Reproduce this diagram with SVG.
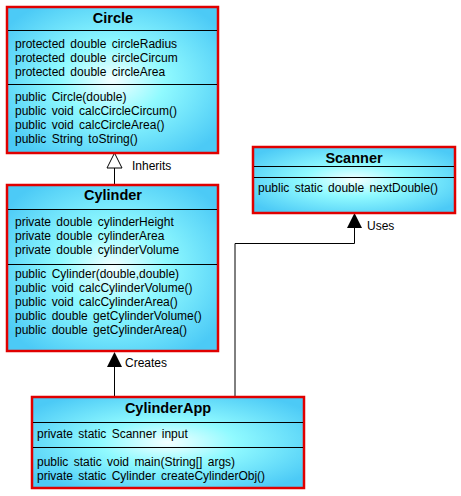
<svg xmlns="http://www.w3.org/2000/svg" width="461" height="496" viewBox="0 0 461 496">
<defs>
<radialGradient id="g" cx="0.5" cy="0.5" r="0.62">
<stop offset="0" stop-color="#f4ffff"/>
<stop offset="0.4" stop-color="#90faff"/>
<stop offset="1" stop-color="#4ccaf6"/>
</radialGradient>
</defs>
<style>
.box{fill:url(#g);stroke:#e00000;stroke-width:2.5}
.div{stroke:#000;stroke-width:1}
text{font-family:"Liberation Sans",Arial,sans-serif;font-size:12px;word-spacing:2px;fill:#000}
.t{font-weight:bold;font-size:14.5px;text-anchor:middle}
.ln{stroke:#000;stroke-width:1;fill:none}
</style>
<rect width="461" height="496" fill="#fff"/>
<g id="connectors">
<line class="ln" x1="114.5" y1="168" x2="114.5" y2="185"/>
<polygon points="114.5,153 107,168 122,168" fill="#fff" stroke="#000" stroke-width="1"/>
<text x="132" y="170">Inherits</text>
<line class="ln" x1="114.5" y1="366" x2="114.5" y2="397"/>
<polygon points="114.5,352 107,367 122,367" fill="#000"/>
<text x="125" y="367">Creates</text>
<polyline class="ln" points="235,397 235,243.5 354.5,243.5 354.5,228"/>
<polygon points="354.5,213 347,228 362,228" fill="#000"/>
<text x="367" y="230">Uses</text>
</g>
<g id="Circle">
<rect class="box" x="7" y="7" width="211" height="146"/>
<line class="div" x1="8" y1="30.5" x2="217" y2="30.5"/>
<line class="div" x1="8" y1="84.5" x2="217" y2="84.5"/>
<text class="t" x="113" y="23">Circle</text>
<text x="15" y="48">protected double circleRadius</text>
<text x="15" y="62">protected double circleCircum</text>
<text x="15" y="76">protected double circleArea</text>
<text x="15" y="101">public Circle(double)</text>
<text x="15" y="115">public void calcCircleCircum()</text>
<text x="15" y="129">public void calcCircleArea()</text>
<text x="15" y="143">public String toString()</text>
</g>
<g id="Cylinder">
<rect class="box" x="7" y="185" width="211" height="166"/>
<line class="div" x1="8" y1="209.5" x2="217" y2="209.5"/>
<line class="div" x1="8" y1="264.5" x2="217" y2="264.5"/>
<text class="t" x="113" y="200">Cylinder</text>
<text x="15" y="226">private double cylinderHeight</text>
<text x="15" y="240">private double cylinderArea</text>
<text x="15" y="254">private double cylinderVolume</text>
<text x="15" y="278">public Cylinder(double,double)</text>
<text x="15" y="292">public void calcCylinderVolume()</text>
<text x="15" y="306">public void calcCylinderArea()</text>
<text x="15" y="320">public double getCylinderVolume()</text>
<text x="15" y="334">public double getCylinderArea()</text>
</g>
<g id="Scanner">
<rect class="box" x="253" y="147" width="202" height="66"/>
<line class="div" x1="254" y1="166.5" x2="454" y2="166.5"/>
<line class="div" x1="254" y1="177.5" x2="454" y2="177.5"/>
<text class="t" x="354" y="163">Scanner</text>
<text x="258" y="192">public static double nextDouble()</text>
</g>
<g id="CylinderApp">
<rect class="box" x="32" y="397" width="272" height="91"/>
<line class="div" x1="33" y1="422.5" x2="303" y2="422.5"/>
<line class="div" x1="33" y1="447.5" x2="303" y2="447.5"/>
<text class="t" x="168" y="413">CylinderApp</text>
<text x="37" y="438">private static Scanner input</text>
<text x="37" y="466">public static void main(String[] args)</text>
<text x="37" y="480">private static Cylinder createCylinderObj()</text>
</g>
</svg>
